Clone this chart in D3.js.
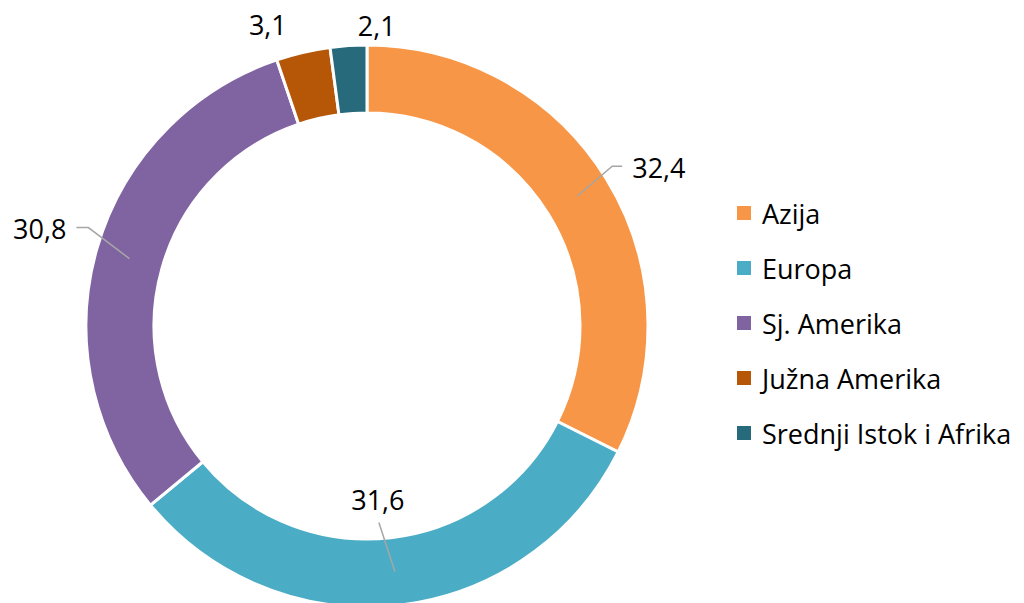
<!DOCTYPE html>
<html>
<head>
<meta charset="utf-8">
<script src="https://cdn.jsdelivr.net/npm/d3@7"></script>
<style>
  body { margin: 0; background: #fff; }
  svg { display: block; font-family: "Open Sans", Lato, sans-serif; }
</style>
</head>
<body>
<div id="chart"></div>
<script>
// data
var regions = ["Azija", "Europa", "Sj. Amerika", "Južna Amerika", "Srednji Istok i Afrika"];
var shares = [32.4, 31.6, 30.8, 3.1, 2.1];
var labels = ["32,4", "31,6", "30,8", "3,1", "2,1"];
var colors = ["#F79646", "#4BACC6", "#8064A2", "#B65708", "#276A7C"];

var svgWidth = 1024;
var svgHeight = 603;

var cx = 367, cy = 326;
var outerR = 281, innerR = 213;

var svg = d3.select("#chart")
    .append("svg")
    .attr("width", svgWidth)
    .attr("height", svgHeight);

var g = svg.append("g")
    .attr("transform", `translate(${cx}, ${cy})`);

var pie = d3.pie().sort(null).value(d => d);
var arcs = pie(shares);

var arc = d3.arc().innerRadius(innerR).outerRadius(outerR);

g.selectAll("path.slice")
    .data(arcs)
    .enter()
    .append("path")
    .attr("class", "slice")
    .attr("d", arc)
    .attr("fill", (d, i) => colors[i])
    .attr("stroke", "#fff")
    .attr("stroke-width", 3)
    .attr("stroke-linejoin", "miter");

// label layout: elbow offset from centroid, then text anchor
var labelLayout = [
    { elbow: [35, -30], tail: 10, tx: 20, ty: 1, anchor: "start" },
    { elbow: [-16, -49], tail: 0, tx: -1, ty: -23, anchor: "middle" },
    { elbow: [-41, -31], tail: -12, tx: -22, ty: 1, anchor: "end" },
    { elbow: null, tx: -43, ty: -61, anchor: "middle" },
    { elbow: null, tx: 26, ty: -54, anchor: "middle" }
];

arcs.forEach(function(d, i) {
    var c = arc.centroid(d);
    var L = labelLayout[i];
    var tx, ty;
    if (L.elbow) {
        var ex = c[0] + L.elbow[0], ey = c[1] + L.elbow[1];
        var pts = [[c[0], c[1]], [ex, ey]];
        if (L.tail) pts.push([ex + L.tail, ey]);
        g.append("path")
            .attr("d", d3.line()(pts))
            .attr("fill", "none")
            .attr("stroke", "#a6a6a6")
            .attr("stroke-width", 1.5);
        tx = ex + L.tx; ty = ey + L.ty;
    } else {
        tx = c[0] + L.tx; ty = c[1] + L.ty;
    }
    g.append("text")
        .attr("x", tx)
        .attr("y", ty)
        .attr("text-anchor", L.anchor)
        .attr("dominant-baseline", "central")
        .style("font-size", "27px")
        .style("fill", "#000")
        .text(labels[i]);
});

// legend
var legend = svg.append("g")
    .attr("transform", "translate(737, 213)");

var rows = legend.selectAll("g")
    .data(regions)
    .enter()
    .append("g")
    .attr("transform", (d, i) => `translate(0, ${i * 55})`);

rows.append("rect")
    .attr("x", 0)
    .attr("y", -7)
    .attr("width", 14)
    .attr("height", 14)
    .attr("fill", (d, i) => colors[i]);

rows.append("text")
    .attr("x", 25)
    .attr("y", 0)
    .attr("dominant-baseline", "central")
    .style("font-size", "27px")
    .style("fill", "#000")
    .text(d => d);
</script>
</body>
</html>
